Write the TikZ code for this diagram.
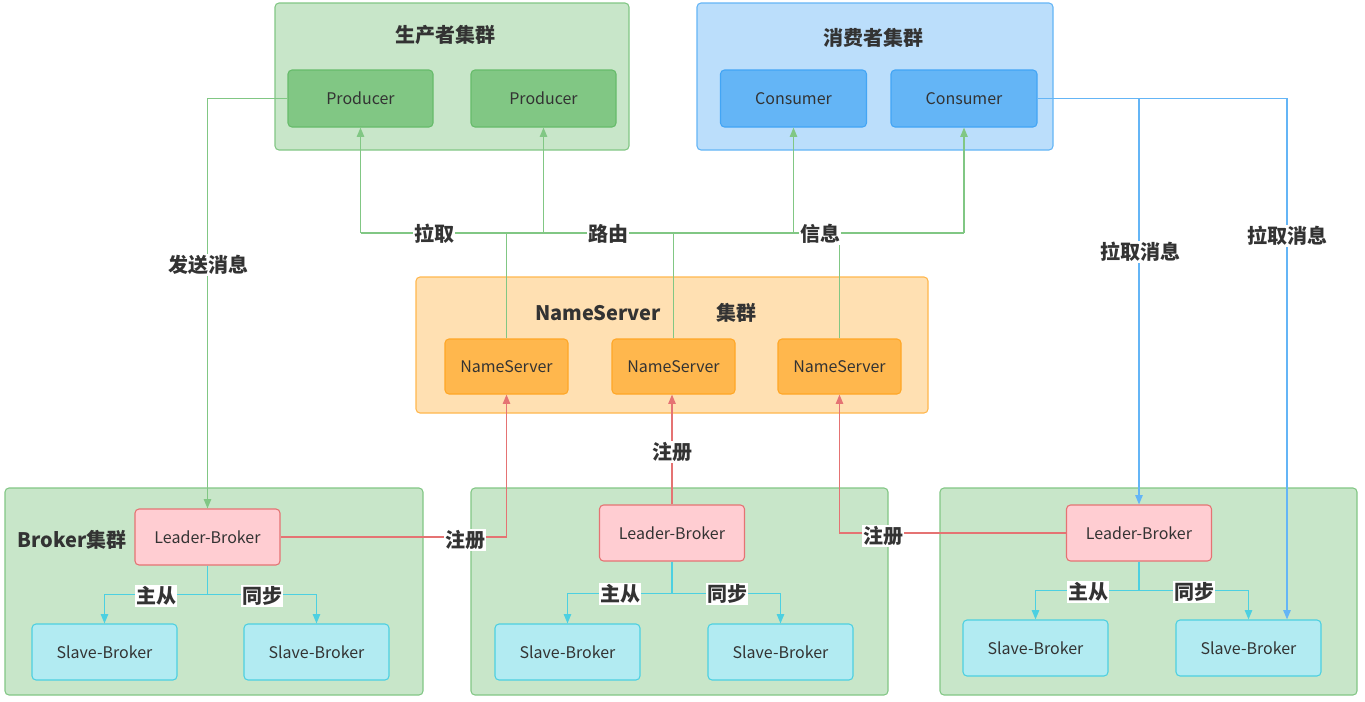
\documentclass[tikz,border=0pt]{standalone}
\usepackage{fontspec}
\setmainfont{Noto Sans CJK SC}
\usetikzlibrary{arrows.meta,fit,calc}
\definecolor{txt}{HTML}{333333}
\definecolor{grfill}{HTML}{C8E6C9}
\definecolor{grline}{HTML}{82C785}
\definecolor{grnode}{HTML}{81C784}
\definecolor{grnodeline}{HTML}{66BB6A}
\definecolor{blfill}{HTML}{BBDEFB}
\definecolor{blline}{HTML}{64B5F6}
\definecolor{blnode}{HTML}{64B5F6}
\definecolor{blnodeline}{HTML}{42A5F5}
\definecolor{orfill}{HTML}{FFE0B2}
\definecolor{orline}{HTML}{FFB74D}
\definecolor{ornode}{HTML}{FFB74D}
\definecolor{ornodeline}{HTML}{FFA726}
\definecolor{rdfill}{HTML}{FFCDD2}
\definecolor{rdline}{HTML}{E57373}
\definecolor{cyfill}{HTML}{B2EBF2}
\definecolor{cyline}{HTML}{4DD0E1}
\begin{document}
\begin{tikzpicture}[x=0.75pt,y=-0.75pt,
  box/.style 2 args={draw, rounded corners=3pt, line width=0.8pt, inner sep=0pt, text=txt,
     font=\fontsize{12}{14}\selectfont, minimum width=#1*0.75pt, minimum height=#2*0.75pt},
  grp/.style={draw, rounded corners=3pt, line width=0.8pt, inner sep=0pt},
  lbl/.style={fill=white, inner sep=1pt, text=txt, font=\bfseries\fontsize{15}{18}\selectfont},
  ttl/.style={inner sep=0pt, text=txt, font=\bfseries\fontsize{15}{18}\selectfont},
  tip/.style={-{Triangle[length=7pt,width=5.5pt]}},
  gl/.style={draw=grnode, line width=1.1pt},
  bl/.style={draw=blline, line width=1.1pt},
  rl/.style={draw=rdline, line width=1.1pt},
  cl/.style={draw=cyline, line width=1.1pt},
  prod/.style={box={145}{57}, draw=grnodeline, fill=grnode},
  cons/.style={box={146}{57}, draw=blnodeline, fill=blnode},
  nsrv/.style={box={123}{55}, draw=ornodeline, fill=ornode},
  lead/.style={box={145}{56}, draw=rdline, fill=rdfill},
  slave/.style={box={145}{56}, draw=cyline, fill=cyfill}]
\useasboundingbox (0,0) rectangle (1365,701);
\fill[white] (0,0) rectangle (1365,701);

% clusters
\node[grp, draw=grline, fill=grfill, fit={(275,3) (629,150)}] (pc) {};
\node[grp, draw=blline, fill=blfill, fit={(697,3) (1053,150)}] (cc) {};
\node[grp, draw=orline, fill=orfill, fit={(416,277) (928,413)}] (nc) {};
\node[grp, draw=grline, fill=grfill, fit={(5,488) (423,695)}] (bc1) {};
\node[grp, draw=grline, fill=grfill, fit={(471,488) (888,695)}] (bc2) {};
\node[grp, draw=grline, fill=grfill, fit={(940,488) (1357,695)}] (bc3) {};

% titles
\node[ttl] (tp) at (445,35) {生产者集群};
\node[ttl] (tc) at (873,38) {消费者集群};
\node[ttl] (tn1) at (598,313) {NameServer};
\node[ttl] (tn2) at (736,313) {集群};
\node[ttl] (tb) at (72,540) {Broker集群};

% nodes
\node[prod] (p1) at (360.5,98.5) {Producer};
\node[prod] (p2) at (543.5,98.5) {Producer};
\node[cons] (c1) at (793.5,98.5) {Consumer};
\node[cons] (c2) at (964,98.5) {Consumer};
\node[nsrv] (ns1) at (506.5,366.5) {NameServer};
\node[nsrv] (ns2) at (673.5,366.5) {NameServer};
\node[nsrv] (ns3) at (839.5,366.5) {NameServer};

\node[lead] (l1) at (207.5,537) {Leader-Broker};
\node[slave] (s1a) at (104.5,652) {Slave-Broker};
\node[slave] (s1b) at (316.5,652) {Slave-Broker};
\node[lead] (l2) at (672,533) {Leader-Broker};
\node[slave] (s2a) at (567.5,652) {Slave-Broker};
\node[slave] (s2b) at (780.5,652) {Slave-Broker};
\node[lead] (l3) at (1139,533) {Leader-Broker};
\node[slave] (s3a) at (1035.5,648) {Slave-Broker};
\node[slave] (s3b) at (1248.5,648) {Slave-Broker};

% producer -> broker
\draw[gl, tip] (p1.west) -| (l1.north);

% nameserver bus (green)
\coordinate (bus) at (0,233);
\draw[gl] (p1.south |- bus) -- (c2.south |- bus);
\draw[gl] (ns1.north) -- (ns1.north |- bus);
\draw[gl] (ns2.north) -- (ns2.north |- bus);
\draw[gl] (ns3.north) -- (ns3.north |- bus);
\draw[gl, tip] (p1.south |- bus) -- (p1.south);
\draw[gl, tip] (p2.south |- bus) -- (p2.south);
\draw[gl, tip] (c1.south |- bus) -- (c1.south);
\draw[gl, tip] (c2.south |- bus) -- (c2.south);

% consumer pulls (blue)
\coordinate (s3bt) at ($(s3b.north)+(38.5,0)$);
\draw[bl, tip] (c2.east) -| (l3.north);
\draw[bl, tip] (c2.east) -| (s3bt);

% register (red)
\draw[rl, tip] (l1.east) -| (ns1.south);
\draw[rl, tip] (l2.north) -- (l2.north |- ns2.south);
\draw[rl, tip] (l3.west) -| (ns3.south);

% master-slave (cyan)
\draw[cl, tip] (l1.south) -- ++(0,29) -| (s1a.north);
\draw[cl, tip] (l1.south) -- ++(0,29) -| (s1b.north);
\draw[cl, tip] (l2.south) -- ++(0,32) -| (s2a.north);
\draw[cl, tip] (l2.south) -- ++(0,32) -| (s2b.north);
\draw[cl, tip] (l3.south) -- ++(0,29) -| (s3a.north);
\draw[cl, tip] (l3.south) -- ++(0,29) -| (s3b.north);

% labels
\node[lbl] (lsend) at (208,265) {发送消息};
\node[lbl] (lpull) at (434,234) {拉取};
\node[lbl] (lroute) at (608,234) {路由};
\node[lbl] (linfo) at (820,234) {信息};
\node[lbl] (lpm1) at (1140,252) {拉取消息};
\node[lbl] (lpm2) at (1287,236) {拉取消息};
\node[lbl] (lr1) at (465,540) {注册};
\node[lbl] (lr2) at (672,452) {注册};
\node[lbl] (lr3) at (883,536) {注册};
\node[lbl] (lm1) at (156,596) {主从};
\node[lbl] (ls1) at (262,596) {同步};
\node[lbl] (lm2) at (620,594) {主从};
\node[lbl] (ls2) at (727,594) {同步};
\node[lbl] (lm3) at (1088,592) {主从};
\node[lbl] (ls3) at (1194,592) {同步};
\end{tikzpicture}
\end{document}
